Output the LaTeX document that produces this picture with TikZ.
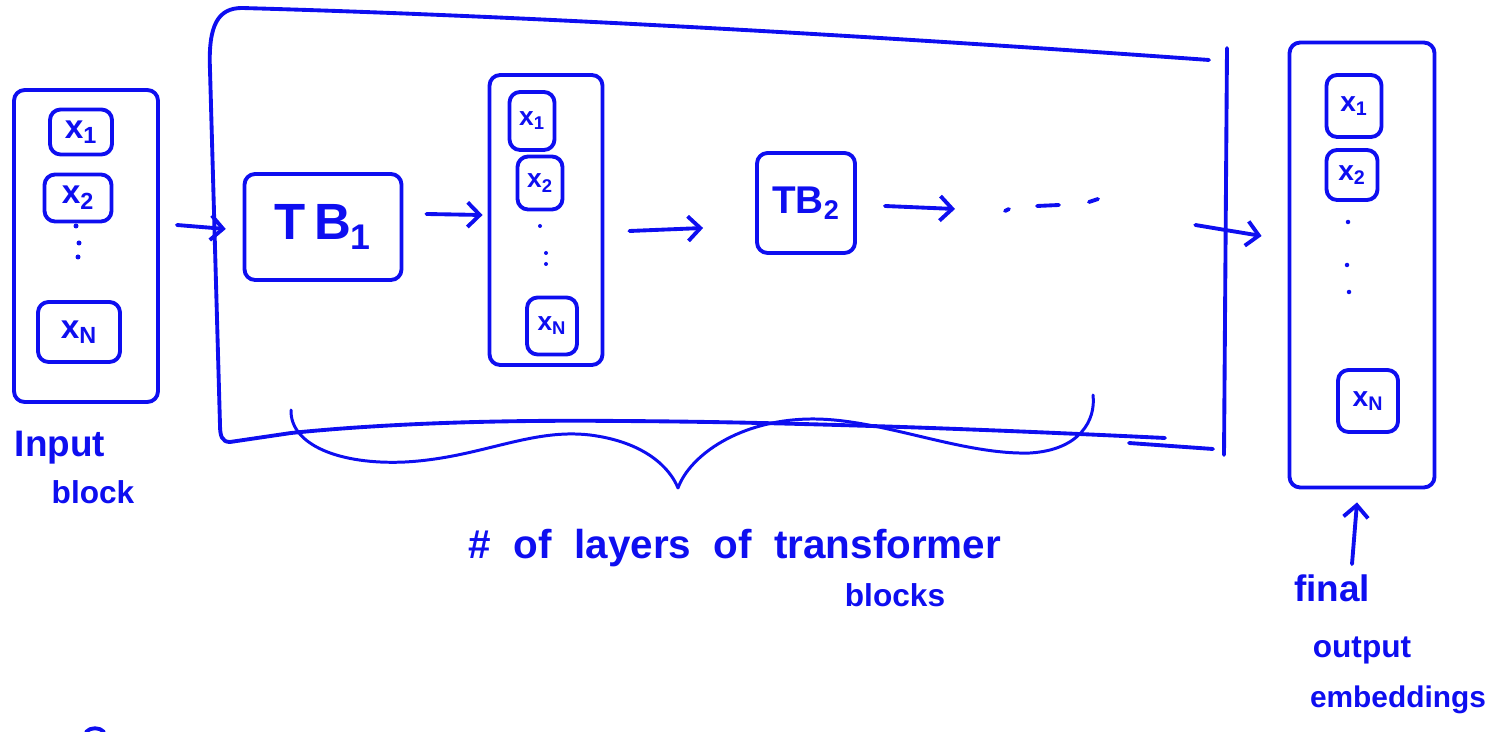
\documentclass[tikz,border=0pt]{standalone}
\usepackage{fontspec}
\setmainfont{Liberation Sans}
\usetikzlibrary{arrows.meta,calc}
\definecolor{ink}{RGB}{14,14,240}
\newcommand\penfs[1]{\fontsize{#1}{#1}\bfseries\selectfont}
\begin{document}
\begin{tikzpicture}[x=0.02cm,y=-0.02cm,
  pen/.style={draw=ink,line width=2.2pt,line cap=round,line join=round},
  thinpen/.style={draw=ink,line width=1.7pt,line cap=round,line join=round},
  box/.style={pen,rounded corners=6pt,inner sep=0pt,text=ink},
  arr/.style={pen,-{Straight Barb[length=7pt,width=14pt]}},
  lbl/.style={text=ink,inner sep=0pt},
  dotfill/.style={fill=ink}]
\useasboundingbox (0,0) rectangle (1494,732);

% ---- input block ----
\node[box,minimum width=2.88cm,minimum height=6.24cm] (inp) at (86,246) {};
\node[box,minimum width=1.24cm,minimum height=0.9cm,font=\penfs{19}] (inpA) at (81,132) {x\textsubscript{1}};
\node[box,minimum width=1.34cm,minimum height=0.94cm,font=\penfs{19}] (inpB) at (78,198) {x\textsubscript{2}};
\node[box,minimum width=1.64cm,minimum height=1.2cm,font=\penfs{19}] (inpN) at (79,332) {x\textsubscript{N}};
\foreach \p in {(76,226),(79,243),(78,257)} \fill[dotfill] \p circle (0.05cm);
\node[lbl,font=\penfs{21}] (inpT1) at (60,448) {Input};
\node[lbl,font=\penfs{18}] (inpT2) at (93,492) {block};

% ---- stack of transformer layers ----
\node[minimum width=20.28cm,minimum height=8.7cm,inner sep=0pt] (layers) at (719,228) {};
\draw[pen] (230,442) .. controls (222,442) and (220,436) .. (220,425)
  -- (210,70) .. controls (208,25) and (218,8) .. (242,8)
  .. controls (600,18) and (1000,45) .. (1209,60);
\draw[pen] (230,442) -- (291,433) .. controls (400,422) and (520,420) .. (620,421)
  .. controls (800,422) and (1000,430) .. (1165,438);
\draw[pen] (1227,48) -- (1224,455);
\draw[pen] (1129,443) -- (1213,449);

\node[box,minimum width=3.14cm,minimum height=2.12cm,font=\penfs{29}] (tb1) at (323,227) {T\,B\textsubscript{1}};

\node[box,minimum width=2.26cm,minimum height=5.8cm] (mid) at (546,220) {};
\node[box,minimum width=0.9cm,minimum height=1.16cm,font=\penfs{15}] (midA) at (532,121) {x\textsubscript{1}};
\node[box,minimum width=0.9cm,minimum height=1.06cm,font=\penfs{15}] (midB) at (540,183) {x\textsubscript{2}};
\node[box,minimum width=1.0cm,minimum height=1.14cm,font=\penfs{15}] (midN) at (552,326) {x\textsubscript{N}};
\foreach \p in {(540,226),(546,253),(546,264)} \fill[dotfill] \p circle (0.04cm);

\node[box,minimum width=1.96cm,minimum height=2.0cm,font=\penfs{22}] (tb2) at (806,203) {TB\textsubscript{2}};

\coordinate (more) at (1005,211);
\draw[pen] (more) -- ++(4,-2);
\draw[pen] ($(more)+(32,-5)$) -- ++(22,-1);
\draw[pen] ($(more)+(84,-9)$) -- ++(9,-3);

% brace under the stack
\draw[thinpen] (291,410) .. controls (290,445) and (340,465) .. (405,462)
  .. controls (480,458) and (530,428) .. (590,435)
  .. controls (645,442) and (670,468) .. (678,488)
  .. controls (690,455) and (740,420) .. (810,419)
  .. controls (880,418) and (960,455) .. (1030,453)
  .. controls (1080,450) and (1096,420) .. (1093,395);
\node[lbl,font=\penfs{23}] (layT1) at (735,548) {\#\ \ of\ \ layers\ \ of\ \ transformer};
\node[lbl,font=\penfs{18}] (layT2) at (895,595) {blocks};

% ---- final output ----
\node[box,minimum width=2.9cm,minimum height=8.9cm] (fin) at (1362,265) {};
\node[box,minimum width=1.1cm,minimum height=1.24cm,font=\penfs{16}] (finA) at (1354,106) {x\textsubscript{1}};
\node[box,minimum width=1.02cm,minimum height=1.0cm,font=\penfs{16}] (finB) at (1352,175) {x\textsubscript{2}};
\node[box,minimum width=1.2cm,minimum height=1.24cm,font=\penfs{16}] (finN) at (1368,401) {x\textsubscript{N}};
\foreach \p in {(1348,222),(1347,265),(1349,292)} \fill[dotfill] \p circle (0.045cm);
\node[lbl,font=\penfs{21}] (finT1) at (1332,588) {final};
\node[lbl,font=\penfs{18}] (finT2) at (1362,650) {output};
\node[lbl,font=\penfs{17}] (finT3) at (1398,700) {embeddings};

% ---- connectors ----
\draw[arr] ($(inp.east)+(17,-21)$) -- ($(layers.west)+(14,1)$);
\draw[arr] ($(tb1.east)+(23,-13)$) -- ($(mid.west)+(-5,-5)$);
\draw[arr] ($(mid.east)+(25,11)$) -- ($(tb2.west)+(-52,25)$);
\draw[arr] ($(tb2.east)+(28,3)$) -- ($(more)+(-50,-2)$);
\draw[arr] ($(layers.east)+(-31,-3)$) -- ($(fin.west)+(-26,-29)$);
\draw[arr] ($(finT1.north)+(20,-10)$) -- ($(fin.south)+(-5,13)$);

% stroke at the lower edge
\draw[pen] (86,732) .. controls (90,727) and (100,727) .. (104,732);
\end{tikzpicture}
\end{document}
